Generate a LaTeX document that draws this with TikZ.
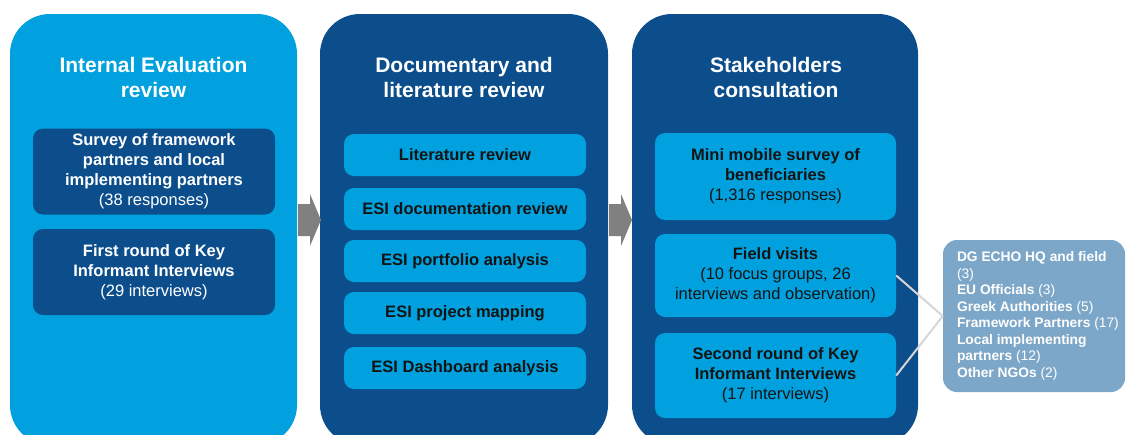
\documentclass[tikz,border=0pt]{standalone}
\usepackage{fontspec}
\setmainfont{Liberation Sans}

\definecolor{skyblue}{RGB}{0,161,222}
\definecolor{navyblue}{RGB}{12,78,140}
\definecolor{greyblue}{RGB}{125,167,200}
\definecolor{arrowgrey}{RGB}{128,128,128}
\definecolor{linkgrey}{RGB}{214,214,214}
\definecolor{inkblack}{RGB}{20,20,20}

\tikzset{
	paneltitle/.style={text=white, align=center, inner sep=0pt,
		font=\bfseries\fontsize{21}{25}\selectfont},
	darkbox/.style={fill=navyblue, rounded corners=10pt, text=white,
		align=center, inner sep=0pt, minimum width=242pt,
		font=\bfseries\fontsize{16.5}{20}\selectfont},
	lightbox/.style={fill=skyblue, rounded corners=10pt, text=inkblack,
		align=center, inner sep=0pt, minimum width=242pt,
		font=\bfseries\fontsize{16.5}{20}\selectfont},
	sidebox/.style={fill=greyblue, rounded corners=14pt, inner sep=0pt,
		minimum width=182pt, minimum height=152pt},
	sidetext/.style={text=white, align=left, inner sep=0pt,
		font=\fontsize{13.8}{16.5}\selectfont},
	linkline/.style={draw=linkgrey, line width=2pt},
}

\begin{document}
\begin{tikzpicture}[x=1pt,y=-1pt]
	
	\useasboundingbox (0,0) rectangle (1126,434);
	\clip (0,0) rectangle (1126,434);
	
	% Ba cột chính
	\fill[skyblue, rounded corners=40pt] (10,14) rectangle (297,445);   % cột 1
	\fill[navyblue, rounded corners=40pt] (320,14) rectangle (608,445); % cột 2
	\fill[navyblue, rounded corners=40pt] (632,14) rectangle (918,445); % cột 3
	
	% Mũi tên xám giữa các cột
	\fill[arrowgrey] (298,204) -- (310,204) -- (310,194) -- (321,220)
		-- (310,246) -- (310,236) -- (298,236) -- cycle;
	\fill[arrowgrey] (609,204) -- (621,204) -- (621,194) -- (632,220)
		-- (621,246) -- (621,236) -- (609,236) -- cycle;
	
	% Cột 1
	\node[paneltitle] (titleA) at (153.5,77.5) {Internal Evaluation\\review};
	\node[darkbox, minimum height=86pt] (survey) at (154,171.5)
		{Survey of framework\\partners and local\\implementing partners\\{\mdseries (38 responses)}};
	\node[darkbox, minimum height=86pt] (firstkii) at (154,272)
		{First round of Key\\Informant Interviews\\{\mdseries (29 interviews)}};
	
	% Cột 2
	\node[paneltitle] (titleB) at (464,77.5) {Documentary and\\literature review};
	\node[lightbox, minimum height=42pt] (litrev) at (465,155) {Literature review};
	\node[lightbox, minimum height=42pt] (docrev) at (465,209) {ESI documentation review};
	\node[lightbox, minimum height=42pt] (portfolio) at (465,261) {ESI portfolio analysis};
	\node[lightbox, minimum height=42pt] (mapping) at (465,313) {ESI project mapping};
	\node[lightbox, minimum height=42pt] (dashboard) at (465,368) {ESI Dashboard analysis};
	
	% Cột 3
	\node[paneltitle] (titleC) at (776,77.5) {Stakeholders\\consultation};
	\node[lightbox, minimum width=241pt, minimum height=87pt] (mobile) at (775.5,176.5)
		{Mini mobile survey of\\beneficiaries\\{\mdseries (1,316 responses)}};
	\node[lightbox, minimum width=241pt, minimum height=83pt] (field) at (775.5,275.5)
		{Field visits\\{\mdseries (10 focus groups, 26}\\{\mdseries interviews and observation)}};
	\node[lightbox, minimum width=241pt, minimum height=85pt] (secondkii) at (775.5,375.5)
		{Second round of Key\\Informant Interviews\\{\mdseries (17 interviews)}};
	
	% Hộp bên phải
	\node[sidebox] (side) at (1034,316) {};
	\node[sidetext, anchor=west] (sidelist) at ([xshift=14pt]side.west)
		{\textbf{DG ECHO HQ and field}\\(3)\\\textbf{EU Officials} (3)\\
		\textbf{Greek Authorities} (5)\\\textbf{Framework Partners} (17)\\
		\textbf{Local implementing}\\\textbf{partners} (12)\\\textbf{Other NGOs} (2)};
	
	% Đường nối
	\draw[linkline] (field.east) -- (side.west);
	\draw[linkline] (secondkii.east) -- (side.west);
	
\end{tikzpicture}
\end{document}
